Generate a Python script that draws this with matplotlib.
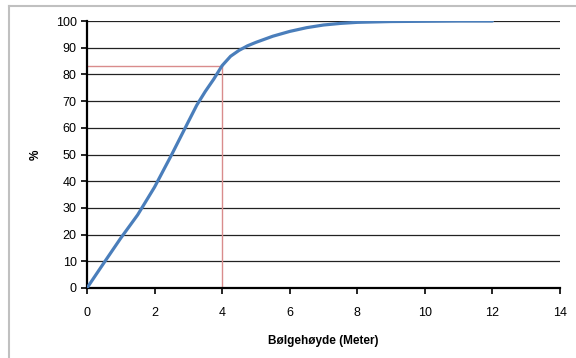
import matplotlib.pyplot as plt
from matplotlib.lines import Line2D

# Bølgehøyde (m) og kumulativ andel (%)
hoyde = [0, 0.5, 1, 1.5, 2, 2.5, 3, 3.25, 3.5, 3.75, 4, 4.25, 4.5, 4.75, 5, 5.5, 6, 6.5, 7, 7.5, 8, 9, 10, 11, 12]
prosent = [0, 9.4, 18.7, 27.4, 37.8, 49.8, 62.3, 68.5, 73.6, 78.2, 83.3, 86.8, 89.0, 90.7, 92.0, 94.3, 96.1, 97.5, 98.5, 99.1, 99.5, 99.8, 99.9, 100, 100]

ref_x = 4
ref_y = 83

plt.rcParams['font.family'] = ['Liberation Sans', 'DejaVu Sans']

fig = plt.figure(figsize=(5.76, 3.58), dpi=100)
ax = fig.add_axes([87 / 576, 1 - 288 / 358, (560 - 87) / 576, (288 - 21) / 358])

ax.set_xlim(0, 14)
ax.set_ylim(0, 100)
ax.set_xticks(range(0, 15, 2))
ax.set_yticks(range(0, 101, 10))

for y in range(10, 101, 10):
    ax.axhline(y, color='#222222', lw=0.9, zorder=1)

ax.plot([0, ref_x], [ref_y, ref_y], color='#d98c8c', lw=1.0, zorder=2)
ax.plot([ref_x, ref_x], [0, ref_y], color='#d98c8c', lw=1.0, zorder=2)

ax.plot(hoyde, prosent, color='#4a7ebb', lw=2.3, zorder=3,
        solid_capstyle='round', solid_joinstyle='round')

for s in ['top', 'right']:
    ax.spines[s].set_visible(False)
for s in ['left', 'bottom']:
    ax.spines[s].set_linewidth(1.6)
    ax.spines[s].set_color('black')

ax.tick_params(axis='both', direction='out', length=4, width=1.2, labelsize=9)
ax.tick_params(axis='x', pad=10)
ax.set_xlabel('Bølgehøyde (Meter)', fontsize=8.5, fontweight='bold', labelpad=11)
ax.set_ylabel('%', fontsize=8.5, fontweight='bold', labelpad=10)

# ramme rundt diagrammet
fig.add_artist(Line2D([9 / 576, 9 / 576], [0, 1 - 6 / 358], color='#c0c0c0', lw=1.5))
fig.add_artist(Line2D([9 / 576, 1], [1 - 6 / 358, 1 - 6 / 358], color='#c0c0c0', lw=1.5))

fig.savefig('out.png', dpi=100)
